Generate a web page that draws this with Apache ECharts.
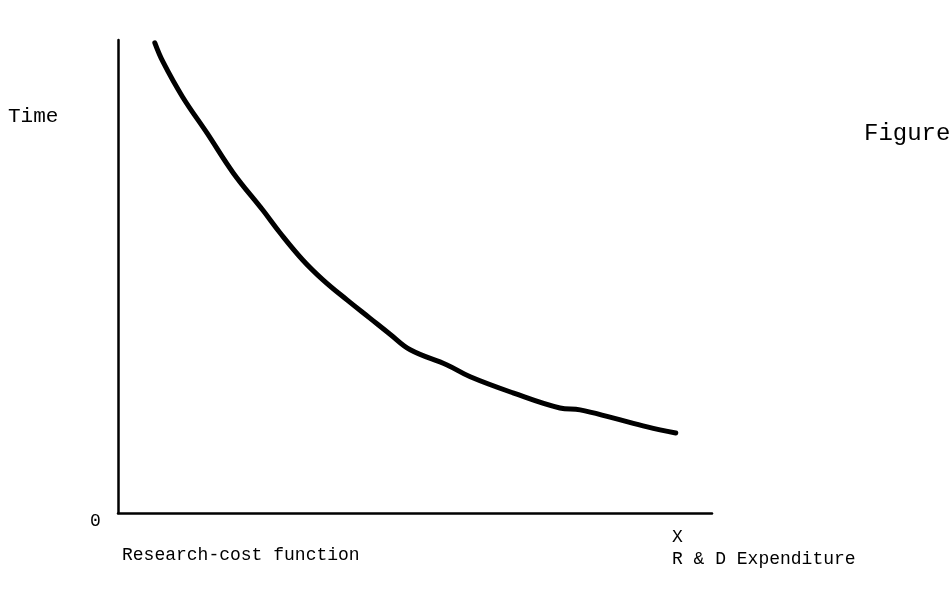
<!DOCTYPE html>
<html>
<head>
<meta charset="utf-8">
<script src="https://cdn.jsdelivr.net/npm/echarts@6/dist/echarts.min.js"></script>
<style>html,body{margin:0;padding:0;background:#fff;}#c{width:951px;height:589px;}</style>
</head>
<body>
<div id="c"></div>
<script>
// Research-cost function: time vs R & D expenditure
const expenditure = [6.2, 7.6, 10.9, 15.0, 19.4, 24.4, 27.3, 31.1, 34.5, 38.6, 42.4, 45.8, 49.2, 55.4, 59.3, 66.5, 74.4, 77.8, 83.3, 89.1, 93.9];
const time =        [99.4, 95.3, 87.9, 80.3, 71.9, 64.0, 59.2, 53.5, 49.3, 45.0, 41.2, 37.8, 34.5, 31.3, 28.8, 25.4, 22.2, 21.8, 20.1, 18.2, 16.9];
const labels = { y: 'Time', origin: '0', caption: 'Research-cost function', xVar: 'X', xName: 'R & D Expenditure', fig: 'Figure' };

const mono = '"Liberation Mono", "DejaVu Sans Mono", monospace';
const chart = echarts.init(document.getElementById('c'));
chart.setOption({
  backgroundColor: '#fff',
  animation: false,
  grid: { left: 118, top: 40, right: 239, bottom: 76 },
  xAxis: {
    type: 'value', min: 0, max: 100,
    axisLine: { show: true, lineStyle: { color: '#000', width: 2.5 } },
    axisTick: { show: false }, axisLabel: { show: false }, splitLine: { show: false }
  },
  yAxis: {
    type: 'value', min: 0, max: 100,
    axisLine: { show: true, lineStyle: { color: '#000', width: 2.5 } },
    axisTick: { show: false }, axisLabel: { show: false }, splitLine: { show: false }
  },
  series: [{
    type: 'line',
    data: expenditure.map((x, i) => [x, time[i]]),
    smooth: 0.4,
    showSymbol: false,
    lineStyle: { color: '#000', width: 5, cap: 'round' }
  }],
  graphic: [
    { type: 'text', left: 8, top: 106, style: { text: labels.y, font: '21px ' + mono, fill: '#000' } },
    { type: 'text', left: 90, top: 512, style: { text: labels.origin, font: '18px ' + mono, fill: '#000' } },
    { type: 'text', left: 122, top: 546, style: { text: labels.caption, font: '18px ' + mono, fill: '#000' } },
    { type: 'text', left: 672, top: 528, style: { text: labels.xVar, font: '18px ' + mono, fill: '#000' } },
    { type: 'text', left: 672, top: 550, style: { text: labels.xName, font: '18px ' + mono, fill: '#000' } },
    { type: 'text', left: 864, top: 122, style: { text: labels.fig, font: '24px ' + mono, fill: '#000' } }
  ]
});
</script>
</body>
</html>
